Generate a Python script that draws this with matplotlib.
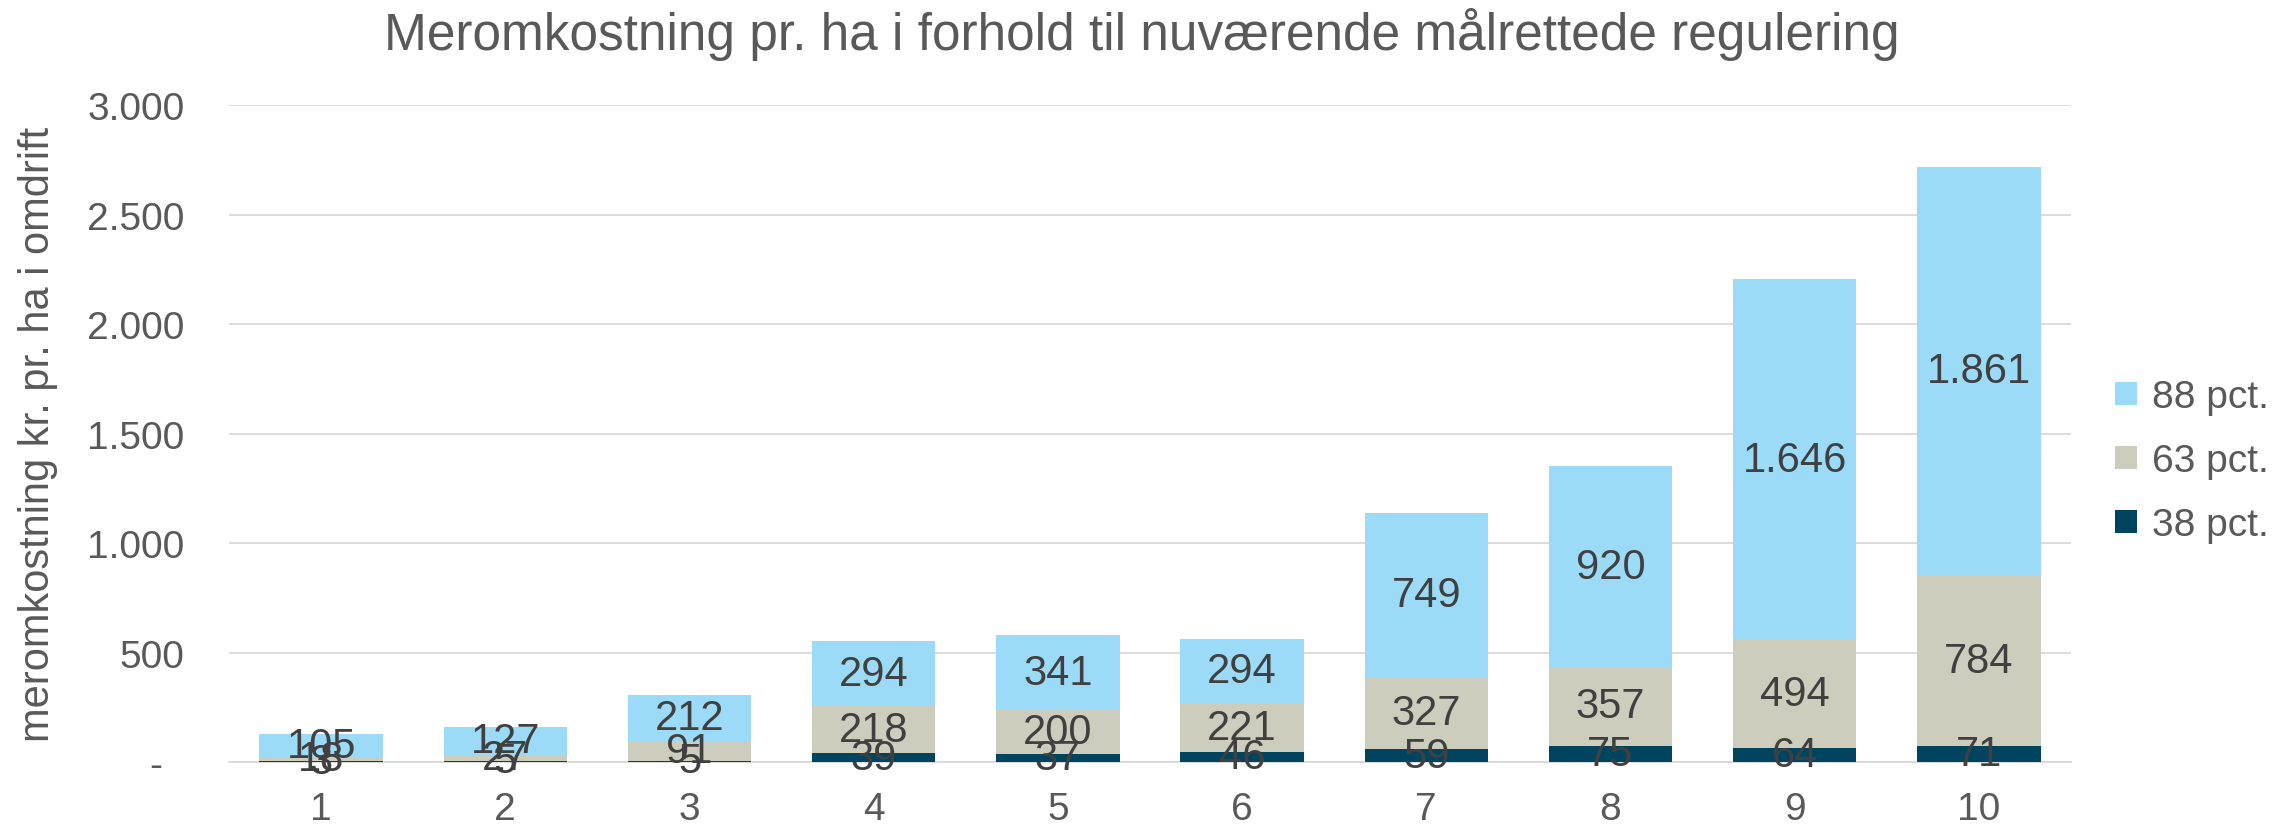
import matplotlib.pyplot as plt
import numpy as np

plt.rcParams['font.family'] = ['Liberation Sans', 'DejaVu Sans']

categories = ['1', '2', '3', '4', '5', '6', '7', '8', '9', '10']
pct38 = [3, 5, 5, 39, 37, 46, 59, 75, 64, 71]
pct63 = [18, 27, 91, 218, 200, 221, 327, 357, 494, 784]
pct88 = [105, 127, 212, 294, 341, 294, 749, 920, 1646, 1861]

series = [("38 pct.", pct38, "#00445F"),
          ("63 pct.", pct63, "#CDCDBD"),
          ("88 pct.", pct88, "#9CDBF8")]


def fmt(v):
    return "-  " if v == 0 else f"{int(v):,}".replace(",", ".")


fig = plt.figure(figsize=(22.84, 8.29), dpi=100)
ax = fig.add_axes([0.1003, 0.0796, 0.8064, 0.7925])

x = np.arange(len(categories))
bottom = np.zeros(len(categories))
handles = []
for name, vals, color in series:
    vals = np.array(vals, dtype=float)
    bars = ax.bar(x, vals, 0.67, bottom=bottom, color=color, label=name, zorder=3)
    handles.append(bars)
    for xi, b, v in zip(x, bottom, vals):
        ax.text(xi, b + v / 2, fmt(v), ha='center', va='center',
                fontsize=30, color='#404040', zorder=4)
    bottom += vals

ax.set_xlim(-0.5, len(categories) - 0.5)
ax.set_ylim(0, 3000)
ax.set_xticks(x)
ax.set_xticklabels(categories)
yt = np.arange(0, 3001, 500)
ax.set_yticks(yt)
ax.set_yticklabels([fmt(v) for v in yt])
ax.tick_params(axis='both', length=0, labelsize=28, colors='#595959')
ax.tick_params(axis='x', pad=21)
ax.tick_params(axis='y', pad=32)
ax.grid(axis='y', color='#D9D9D9', linewidth=1.3, zorder=0)
for s in ['top', 'right', 'left']:
    ax.spines[s].set_visible(False)
ax.spines['bottom'].set_color('#D9D9D9')
ax.spines['bottom'].set_linewidth(1.3)

ax.set_ylabel("meromkostning kr. pr. ha i omdrift", fontsize=30, color='#595959')
ax.yaxis.set_label_coords(-0.093, 0.5)
fig.suptitle("Meromkostning pr. ha i forhold til nuværende målrettede regulering",
             fontsize=37, color='#595959', y=0.99)

ax.legend(handles[::-1], [h.get_label() for h in handles[::-1]],
          loc='center left', bbox_to_anchor=(1.005, 0.458), frameon=False,
          fontsize=28, labelcolor='#595959', handlelength=0.56, handleheight=0.56,
          handletextpad=0.4, labelspacing=0.72)

fig.savefig("out.png", dpi=100)
